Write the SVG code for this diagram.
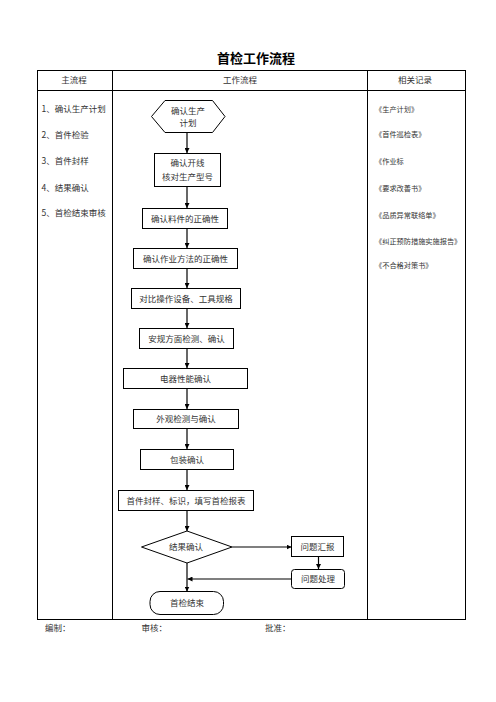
<svg xmlns="http://www.w3.org/2000/svg" width="496" height="702" viewBox="0 0 496 702">
<defs>
<marker id="ah" viewBox="0 0 8 8" refX="8" refY="4" markerWidth="5" markerHeight="5" orient="auto" markerUnits="userSpaceOnUse">
<path d="M0,0 L8,4 L0,8 z" fill="#000"/>
</marker>
<style>
text{font-family:"Noto Sans CJK SC","Noto Sans",sans-serif;fill:#333;}
.t{font-size:8.5px;}
.c{text-anchor:middle;}
.r{font-size:7.2px;}
.title{font-size:13px;font-weight:bold;fill:#000;text-anchor:middle;}
.grid{fill:none;stroke:#000;stroke-width:1;}
.n{fill:#fff;stroke:#000;stroke-width:1;}
.e{fill:none;stroke:#000;stroke-width:1.2;marker-end:url(#ah);}
</style>
</defs>
<rect width="496" height="702" fill="#fff"/>
<text class="title" x="256" y="63">首检工作流程</text>
<g id="table">
<rect class="grid" x="37.5" y="70.5" width="428" height="549"/>
<line class="grid" x1="37.5" y1="90.5" x2="465.5" y2="90.5"/>
<line class="grid" x1="112.5" y1="70.5" x2="112.5" y2="619.5"/>
<line class="grid" x1="367.5" y1="70.5" x2="367.5" y2="619.5"/>
<text class="t c" x="74" y="83">主流程</text>
<text class="t c" x="240" y="83">工作流程</text>
<text class="t c" x="415" y="83">相关记录</text>
</g>
<g id="main-steps" class="t">
<text class="t" x="41.5" y="112">1、确认生产计划</text>
<text class="t" x="41.5" y="138">2、首件检验</text>
<text class="t" x="41.5" y="164">3、首件封样</text>
<text class="t" x="41.5" y="191">4、结果确认</text>
<text class="t" x="41.5" y="216">5、首检结束审核</text>
</g>
<g id="records">
<text class="r" x="375" y="112">《生产计划》</text>
<text class="r" x="375" y="137">《首件巡检表》</text>
<text class="r" x="375" y="164">《作业标</text>
<text class="r" x="375" y="191">《要求改善书》</text>
<text class="r" x="375" y="217.5">《品质异常联络单》</text>
<text class="r" x="375" y="243.5">《纠正预防措施实施报告》</text>
<text class="r" x="375" y="267.5">《不合格对策书》</text>
</g>
<g id="connectors">
<line class="e" x1="187" y1="133" x2="187" y2="153"/>
<line class="e" x1="187" y1="187" x2="187" y2="208"/>
<line class="e" x1="187" y1="228.5" x2="187" y2="248"/>
<line class="e" x1="187" y1="268.5" x2="187" y2="288"/>
<line class="e" x1="187" y1="308.5" x2="187" y2="328"/>
<line class="e" x1="187" y1="348.5" x2="187" y2="368"/>
<line class="e" x1="187" y1="388.5" x2="187" y2="409"/>
<line class="e" x1="187" y1="428.5" x2="187" y2="449"/>
<line class="e" x1="187" y1="469.5" x2="187" y2="490"/>
<line class="e" x1="187" y1="510.5" x2="187" y2="531"/>
<line class="e" x1="232" y1="547" x2="291.5" y2="547"/>
<line class="e" x1="318.5" y1="556.5" x2="318.5" y2="569"/>
<line class="e" x1="291.5" y1="579" x2="187.5" y2="579"/>
<line class="e" x1="187" y1="563" x2="187" y2="591.5"/>
</g>
<g id="n1">
<polygon class="n" points="151.5,116.5 165,100.5 212.5,100.5 225,116.5 212.5,132.5 165,132.5"/>
<text class="t c" x="188" y="113.5">确认生产</text>
<text class="t c" x="188" y="126">计划</text>
</g>
<g id="n2">
<rect class="n" x="154.5" y="153.5" width="66" height="33"/>
<text class="t c" x="187.5" y="165.5">确认开线</text>
<text class="t c" x="187.5" y="179.5">核对生产型号</text>
</g>
<g id="n3">
<rect class="n" x="142.5" y="208.5" width="85" height="20"/>
<text class="t c" x="185" y="221.5">确认料件的正确性</text>
</g>
<g id="n4">
<rect class="n" x="133.5" y="248.5" width="104" height="20"/>
<text class="t c" x="185.5" y="261.5">确认作业方法的正确性</text>
</g>
<g id="n5">
<rect class="n" x="131.5" y="288.5" width="109" height="20"/>
<text class="t c" x="186" y="301.5">对比操作设备、工具规格</text>
</g>
<g id="n6">
<rect class="n" x="139.5" y="328.5" width="94" height="20"/>
<text class="t c" x="186.5" y="341.5">安规方面检测、确认</text>
</g>
<g id="n7">
<rect class="n" x="123.5" y="368.5" width="124" height="20"/>
<text class="t c" x="185.5" y="381.5">电器性能确认</text>
</g>
<g id="n8">
<rect class="n" x="133.5" y="409.5" width="105" height="19"/>
<text class="t c" x="186" y="422">外观检测与确认</text>
</g>
<g id="n9">
<rect class="n" x="140.5" y="449.5" width="93" height="20"/>
<text class="t c" x="187" y="462.5">包装确认</text>
</g>
<g id="n10">
<rect class="n" x="118.5" y="490.5" width="135" height="20"/>
<text class="t c" x="186" y="503.5">首件封样、标识，填写首检报表</text>
</g>
<g id="n11">
<polygon class="n" points="141.5,547 187,531 232,547 187,563"/>
<text class="t c" x="186" y="549.5">结果确认</text>
</g>
<g id="n12">
<rect class="n" x="291.5" y="536.5" width="52" height="20"/>
<text class="t c" x="317.5" y="549.5">问题汇报</text>
</g>
<g id="n13">
<rect class="n" x="291.5" y="569.5" width="53" height="19" rx="3"/>
<text class="t c" x="318" y="582">问题处理</text>
</g>
<g id="n14">
<rect class="n" x="150" y="591.5" width="73.5" height="23" rx="10"/>
<text class="t c" x="187" y="606">首检结束</text>
</g>
<g id="footer">
<text class="t" x="45" y="631">编制：</text>
<text class="t" x="141.5" y="631">审核：</text>
<text class="t" x="265" y="631">批准：</text>
</g>
</svg>
